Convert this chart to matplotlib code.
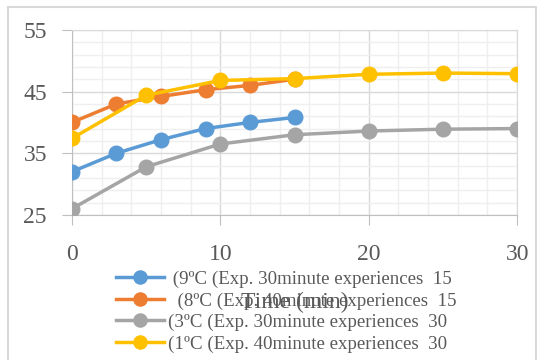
import matplotlib
matplotlib.use("Agg")
import matplotlib.pyplot as plt
from matplotlib.patches import Rectangle

# series data (time in minutes, temperature)
t_blue = [0, 3, 6, 9, 12, 15]
y_blue = [32.0, 35.0, 37.2, 39.0, 40.0, 40.8]
t_orange = [0, 3, 6, 9, 12, 15]
y_orange = [40.0, 43.0, 44.2, 45.3, 46.0, 47.0]
t_gray = [0, 5, 10, 15, 20, 25, 30]
y_gray = [26.0, 32.8, 36.5, 38.0, 38.6, 38.9, 39.0]
t_yellow = [0, 5, 10, 15, 20, 25, 30]
y_yellow = [37.4, 44.4, 46.8, 47.1, 47.8, 48.0, 47.9]

labels = [" (9ºC (Exp. 30minute experiences  15",
          "  (8ºC (Exp. 40minute experiences  15",
          "(3ºC (Exp. 30minute experiences  30",
          "(1ºC (Exp. 40minute experiences  30"]
colors = ["#5b9bd5", "#ed7d31", "#a5a5a5", "#ffc000"]

plt.rcParams['font.family'] = ['Liberation Serif', 'DejaVu Serif']
txt = "#595959"

fig = plt.figure(figsize=(5.37, 3.6), dpi=100)
ax = fig.add_axes([0.134, 0.403, 0.829, 0.514])

series = [(t_blue, y_blue), (t_orange, y_orange), (t_gray, y_gray), (t_yellow, y_yellow)]
handles = []
for (t, y), c, lab in zip(series, colors, labels):
    h, = ax.plot(t, y, color=c, lw=2.5, marker='o', ms=10.5, label=lab, zorder=3)
    handles.append(h)

ax.set_xlim(0, 30)
ax.set_ylim(25, 55)
ax.set_xticks([0, 10, 20, 30])
ax.set_yticks([25, 35, 45, 55])
ax.set_xticks(range(0, 31, 2), minor=True)
ax.set_yticks(range(25, 56, 2), minor=True)
ax.grid(which='major', color='#d9d9d9', lw=1)
ax.grid(which='minor', color='#efefef', lw=1)
ax.set_axisbelow(True)
for s in ax.spines.values():
    s.set_color('#d9d9d9')
ax.spines['left'].set_color('#bfbfbf')
ax.spines['bottom'].set_color('#bfbfbf')
ax.tick_params(which='major', length=7, color='#bfbfbf', labelsize=17, labelcolor=txt)
ax.tick_params(axis='x', which='major', pad=14)
ax.tick_params(axis='y', which='major', pad=11)
ax.tick_params(which='minor', length=0)

fig.legend(handles=handles, loc='upper left', bbox_to_anchor=(0.199, 0.274),
           frameon=False, fontsize=13.6, labelcolor=txt, handlelength=2.5,
           handletextpad=0.25, labelspacing=0.22, borderpad=0, markerscale=0.9)
fig.text(0.549, 0.16, "Time (min)", fontsize=17, color=txt, ha='center', va='center')

fig.patches.append(Rectangle((8 / 537, -0.01), 528 / 537, 1 - 7 / 360 + 0.01,
                             transform=fig.transFigure, fill=False,
                             edgecolor='#d9d9d9', lw=1.5))

fig.savefig("out.png", dpi=100)
